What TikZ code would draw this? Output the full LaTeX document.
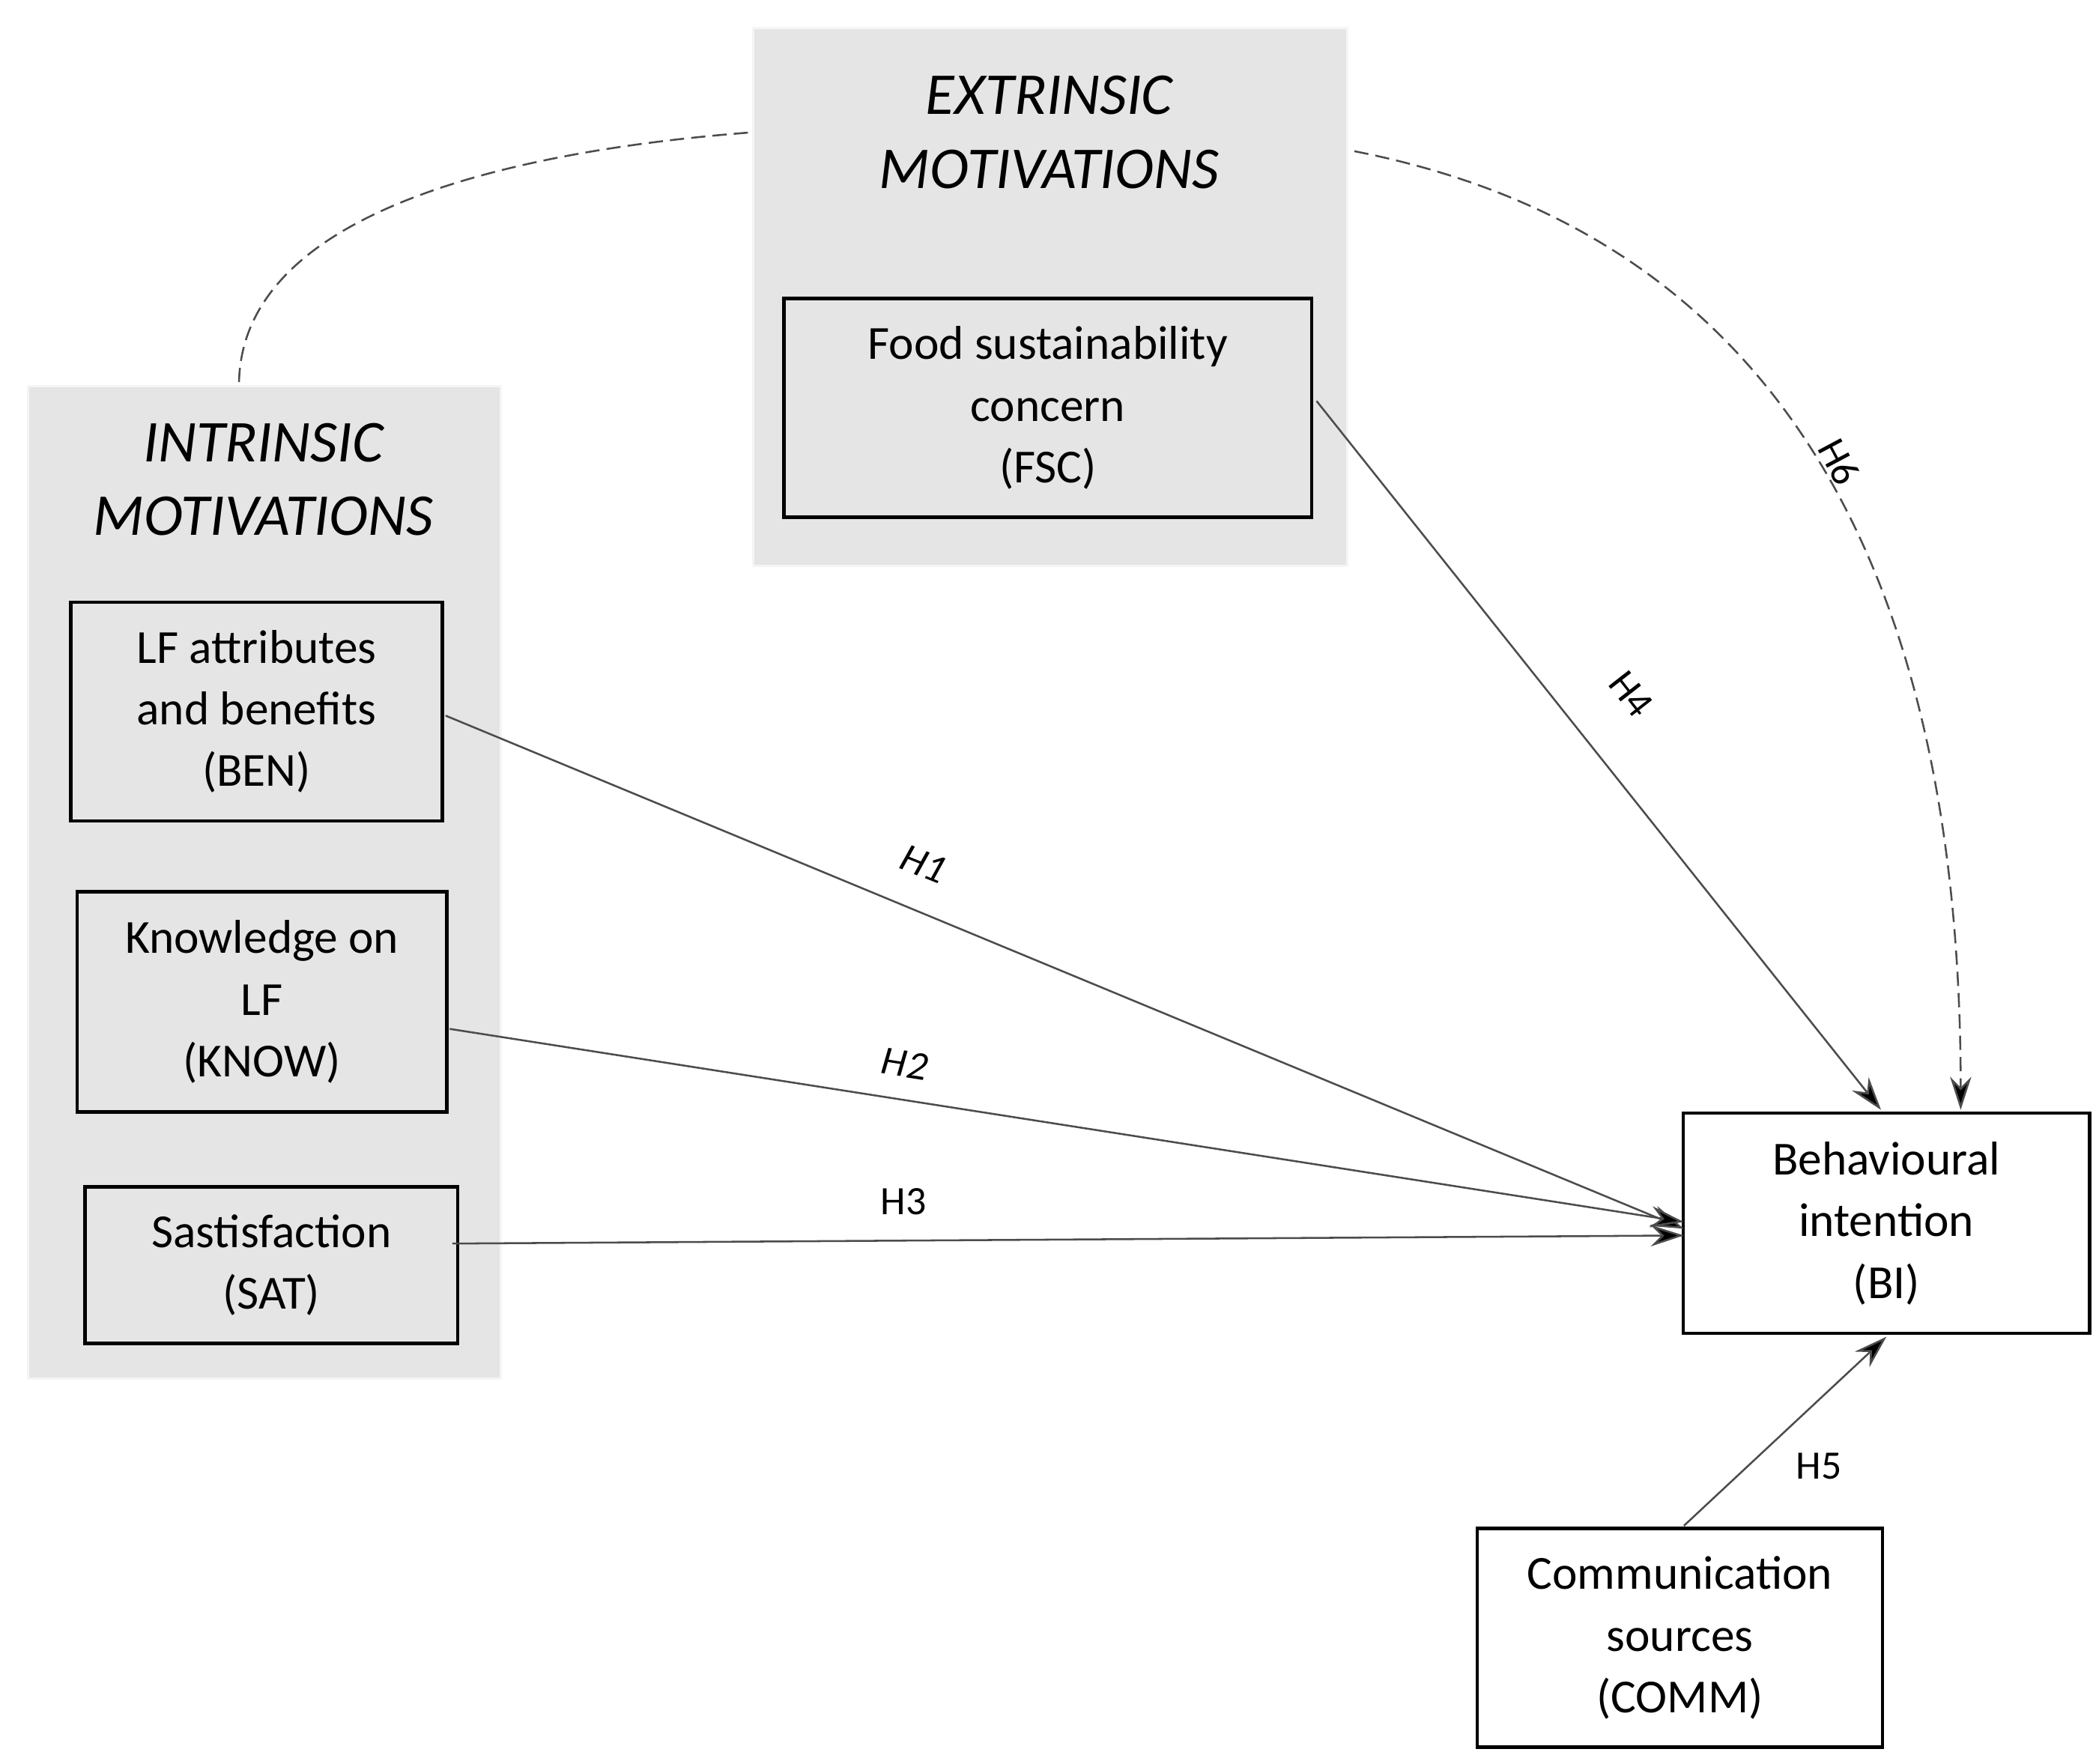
\documentclass[tikz,border=0pt]{standalone}
\usepackage{fontspec}
\setmainfont{Carlito}
\usetikzlibrary{arrows.meta}
\begin{document}
\begin{tikzpicture}[x=0.02cm,y=-0.02cm,
 grp/.style={fill=gray!20,draw=gray!8,line width=1pt},
 box/.style={draw=black,line width=1.4pt,fill=#1,align=center,font=\fontsize{20}{26}\selectfont},
 box/.default=gray!20,
 arr/.style={draw=black!70,line width=0.8pt,-{Stealth[length=14pt,width=9pt,fill=black]}},
 dsh/.style={dash pattern=on 6pt off 3pt},
 lab/.style={font=\fontsize{17}{20}\selectfont},
 ttl/.style={align=center,font=\fontsize{25}{31}\selectfont\itshape}]
\useasboundingbox (0,0) rectangle (1550,1306);
\node[grp,minimum width=440*0.02cm,minimum height=398*0.02cm,anchor=north west] (ext) at (557,20) {};
\node[grp,minimum width=350*0.02cm,minimum height=735*0.02cm,anchor=north west] (int) at (20,285) {};
\node[ttl] (extt) at (777,98) {EXTRINSIC\\MOTIVATIONS};
\node[ttl] (intt) at (195,355) {INTRINSIC\\MOTIVATIONS};
\node[box,minimum width=391*0.02cm,minimum height=162*0.02cm] (fsc) at (776,302) {Food sustainability\\concern\\(FSC)};
\node[box,minimum width=275*0.02cm,minimum height=162*0.02cm] (ben) at (190,527) {LF attributes\\and benefits\\(BEN)};
\node[box,minimum width=274*0.02cm,minimum height=163*0.02cm] (know) at (194,742) {Knowledge on\\LF\\(KNOW)};
\node[box,minimum width=276*0.02cm,minimum height=116*0.02cm] (sat) at (201,937) {Sastisfaction\\(SAT)};
\node[box=white,minimum width=301*0.02cm,minimum height=163*0.02cm] (bi) at (1397,906) {Behavioural\\intention\\(BI)};
\node[box=white,minimum width=300*0.02cm,minimum height=162*0.02cm] (comm) at (1244,1213) {Communication\\sources\\(COMM)};
\coordinate (b1) at (1247,910);
\coordinate (b2) at (1247,905);
\coordinate (b3) at (1247,915);
\coordinate (b4) at (1393,822);
\coordinate (b5) at (1397,990);
\coordinate (b6) at (1452,822);
\coordinate (ben0) at (330,530);
\coordinate (know0) at (333,762);
\coordinate (sat0) at (335,921);
\coordinate (fsc0) at (975,297);
\coordinate (comm0) at (1247,1130);
\draw[arr] (ben0) -- (b1);
\draw[arr] (know0) -- (b2);
\draw[arr] (sat0) -- (b3);
\draw[arr] (fsc0) -- (b4);
\draw[arr] (comm0) -- (b5);
\coordinate (e6) at (1003,112);
\draw[arr,dsh] (e6) .. controls (1300,170) and (1452,400) .. (b6);
\coordinate (i0) at (177,283);
\coordinate (e0) at (557,98);
\draw[draw=black!70,line width=0.8pt,dsh] (i0) .. controls (180,150) and (400,110) .. (e0);
\node[lab,rotate=-22] (h1) at (684,640) {\itshape H1};
\node[lab,rotate=-9] (h2) at (670,788) {\itshape H2};
\node[lab] (h3) at (669,890) {H3};
\node[lab,rotate=-52] (h4) at (1208,514) {H4};
\node[lab] (h5) at (1347,1086) {H5};
\node[lab,rotate=-62] (h6) at (1362,342) {H6};
\end{tikzpicture}
\end{document}
